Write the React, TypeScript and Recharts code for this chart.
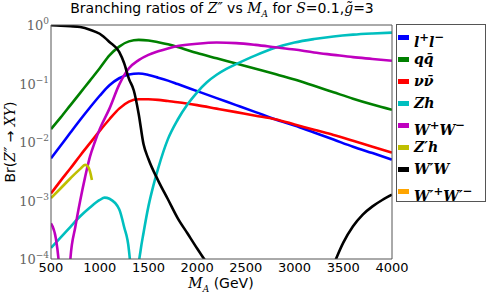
import React from 'react';
import { LineChart, Line, XAxis, YAxis } from 'recharts';

// masses (GeV) and branching ratios
const xTicks = [500, 1000, 1500, 2000, 2500, 3000, 3500, 4000];
const yTicks = [1e-4, 1e-3, 1e-2, 1e-1, 1];
const yMinorTicks = [
  2e-4, 3e-4, 4e-4, 5e-4, 6e-4, 7e-4, 8e-4, 9e-4,
  2e-3, 3e-3, 4e-3, 5e-3, 6e-3, 7e-3, 8e-3, 9e-3,
  2e-2, 3e-2, 4e-2, 5e-2, 6e-2, 7e-2, 8e-2, 9e-2,
  2e-1, 3e-1, 4e-1, 5e-1, 6e-1, 7e-1, 8e-1, 9e-1,
];

const llData: [number, number][] = [
  [500, 0.00525], [600, 0.0087], [700, 0.0145], [800, 0.024], [900, 0.0389],
  [1000, 0.0617], [1100, 0.0933], [1200, 0.123], [1300, 0.143], [1400, 0.148],
  [1500, 0.14], [1600, 0.126], [1700, 0.112], [1800, 0.0977], [2000, 0.0741],
  [2200, 0.0562], [2400, 0.0427], [2600, 0.0324], [2800, 0.0245], [3000, 0.0191],
  [3200, 0.0145], [3400, 0.011], [3600, 0.0083], [3800, 0.00646], [4000, 0.005],
];

const qqData: [number, number][] = [
  [500, 0.0166], [600, 0.0263], [700, 0.0427], [800, 0.0692], [900, 0.112],
  [1000, 0.182], [1100, 0.302], [1200, 0.427], [1300, 0.525], [1400, 0.556],
  [1500, 0.543], [1600, 0.507], [1700, 0.468], [1800, 0.422], [2000, 0.331],
  [2200, 0.269], [2400, 0.219], [2600, 0.178], [2800, 0.145], [3000, 0.117],
  [3200, 0.0912], [3400, 0.0708], [3600, 0.055], [3800, 0.0437], [4000, 0.0355],
];

const nnData: [number, number][] = [
  [500, 0.00132], [600, 0.00219], [700, 0.00355], [800, 0.00589], [900, 0.00955],
  [1000, 0.0155], [1100, 0.0245], [1200, 0.0372], [1300, 0.049], [1400, 0.0537],
  [1500, 0.0537], [1600, 0.0525], [1700, 0.0501], [1800, 0.0479], [2000, 0.0427],
  [2200, 0.0372], [2400, 0.0324], [2600, 0.0282], [2800, 0.0245], [3000, 0.02],
  [3200, 0.0162], [3400, 0.0132], [3600, 0.0105], [3800, 0.0083], [4000, 0.0066],
];

const zhData: [number, number][] = [
  [500, 1.55e-4], [600, 2.34e-4], [700, 3.55e-4], [800, 5.37e-4], [900, 7.59e-4],
  [1000, 1.02e-3], [1050, 1.12e-3], [1100, 1.07e-3], [1200, 7.08e-4], [1250, 3.55e-4],
  [1300, 1.41e-4], [1330, 3.2e-5], [1360, 1e-6], [1390, 5e-5], [1420, 1.41e-4],
  [1450, 2.82e-4], [1500, 7.94e-4], [1550, 1.78e-3], [1600, 3.55e-3], [1700, 0.0112],
  [1800, 0.024], [1900, 0.0437], [2000, 0.0708], [2100, 0.105], [2200, 0.141],
  [2300, 0.178], [2400, 0.214], [2600, 0.302], [2800, 0.407], [3000, 0.501],
  [3200, 0.575], [3400, 0.638], [3600, 0.684], [3800, 0.716], [4000, 0.741],
];

const wwData: [number, number][] = [
  [500, 4.07e-4], [550, 2.24e-4], [580, 8.9e-5], [640, 1e-6], [700, 1.05e-4],
  [750, 3.55e-4], [800, 1e-3], [850, 2.51e-3], [900, 5.62e-3], [950, 0.01],
  [1000, 0.0166], [1100, 0.0372], [1200, 0.0955], [1300, 0.182], [1400, 0.251],
  [1500, 0.309], [1600, 0.355], [1700, 0.398], [1800, 0.437], [2000, 0.479],
  [2200, 0.501], [2400, 0.49], [2600, 0.457], [2800, 0.417], [3000, 0.38],
  [3200, 0.339], [3400, 0.309], [3600, 0.282], [3800, 0.263], [4000, 0.245],
];

const zphData: [number, number][] = [
  [500, 1.1e-3], [600, 1.62e-3], [700, 2.4e-3], [800, 3.47e-3], [850, 4.07e-3],
  [880, 3.8e-3], [900, 3.16e-3], [920, 2.24e-3],
];

const wpwData: [number, number][] = [
  [500, 0.989], [600, 0.977], [700, 0.955], [800, 0.923], [900, 0.832],
  [1000, 0.708], [1100, 0.513], [1200, 0.347], [1250, 0.224], [1300, 0.12],
  [1350, 0.0759], [1400, 0.0302], [1450, 0.00912], [1500, 0.00513], [1600, 0.00219],
  [1700, 1.05e-3], [1800, 5.01e-4], [1900, 2.75e-4], [2000, 1.51e-4], [2100, 8.5e-5],
  [2200, 4.47e-5], [2400, 1e-5], [2800, 1e-6], [3200, 1e-5], [3400, 7.94e-5],
  [3500, 1.9e-4], [3600, 3.63e-4], [3700, 5.75e-4], [3800, 7.94e-4], [3900, 1.02e-3],
  [4000, 1.26e-3],
];

const serif = { fontFamily: 'DejaVu Serif', fontStyle: 'italic' as const };

const series = [
  { key: 'll', color: '#0000ff', data: llData, label: <><i>l</i><sup>+</sup><i>l</i><sup>−</sup></> },
  { key: 'qq', color: '#008000', data: qqData, label: <><i>q</i><i>q&#772;</i></> },
  { key: 'nn', color: '#ff0000', data: nnData, label: <><i>ν</i><i>ν&#772;</i></> },
  { key: 'zh', color: '#00bfbf', data: zhData, label: <><i>Zh</i></> },
  { key: 'ww', color: '#bf00bf', data: wwData, label: <><i>W</i><sup>+</sup><i>W</i><sup>−</sup></> },
  { key: 'zph', color: '#bfbf00', data: zphData, label: <><i>Z′h</i></> },
  { key: 'wpw', color: '#000000', data: wpwData, label: <><i>W′W</i></> },
  { key: 'wpwp', color: '#ffa500', data: [] as [number, number][], label: <><i>W′</i><sup>+</sup><i>W′</i><sup>−</sup></> },
];

const frame = '#555';

const YTick = (props: any) => {
  const { x, y, payload } = props;
  const exp = Math.round(Math.log10(payload.value));
  return (
    <text x={x} y={y + 5} textAnchor="end" fill="#666" fontFamily="DejaVu Serif" fontSize={13}>
      10<tspan dy={-6} fontSize={9}>{exp === 0 ? '0' : '−' + -exp}</tspan>
    </text>
  );
};

const Legend = () => (
  <div
    style={{
      position: 'absolute', left: 396, top: 24, width: 90, height: 178,
      border: `1px solid ${frame}`, background: '#fff', boxSizing: 'border-box',
    }}
  >
    {series.map((s, i) => (
      <div key={s.key} style={{ position: 'absolute', left: 0, top: 2 + i * 22, height: 20, width: 88 }}>
        <div style={{ position: 'absolute', left: 1, top: 8, width: 11, height: 5, background: s.color }} />
        <div
          style={{
            position: 'absolute', left: 17, top: 0, lineHeight: '20px', fontSize: 14,
            fontWeight: 'bold', whiteSpace: 'nowrap', ...serif,
          }}
        >
          {s.label}
        </div>
      </div>
    ))}
  </div>
);

const App = () => {
  return (
    <div style={{ position: 'absolute', left: 0, top: 0, width: 490, height: 297, background: '#fff' }}>
      <LineChart width={490} height={297} margin={{ top: 25, right: 98, bottom: 0, left: 0 }}>
        <XAxis
          xAxisId="b" type="number" dataKey="m" domain={[500, 4000]} ticks={xTicks}
          allowDataOverflow height={38} tickLine={false} tickSize={0} tickMargin={4}
          axisLine={{ stroke: frame }}
          tick={{ fill: '#000', fontFamily: 'DejaVu Sans', fontSize: 13 }}
        />
        <XAxis
          xAxisId="bt" type="number" dataKey="m" domain={[500, 4000]} ticks={xTicks}
          allowDataOverflow mirror tick={false} tickSize={4} axisLine={false}
          tickLine={{ stroke: frame }}
        />
        <XAxis
          xAxisId="t" orientation="top" type="number" dataKey="m" domain={[500, 4000]} ticks={xTicks}
          allowDataOverflow mirror tick={false} tickSize={4} axisLine={{ stroke: frame }}
          tickLine={{ stroke: frame }}
        />
        <YAxis
          yAxisId="l" scale="log" type="number" domain={[1e-4, 1]} ticks={yTicks}
          allowDataOverflow width={51} tickLine={false} tickSize={0} tickMargin={2}
          axisLine={{ stroke: frame }} tick={<YTick />}
        />
        <YAxis
          yAxisId="lm" scale="log" type="number" domain={[1e-4, 1]} ticks={yTicks}
          allowDataOverflow mirror tick={false} tickSize={4} axisLine={false}
          tickLine={{ stroke: frame }}
        />
        <YAxis
          yAxisId="ln" scale="log" type="number" domain={[1e-4, 1]} ticks={yMinorTicks}
          allowDataOverflow mirror tick={false} tickSize={2} axisLine={false}
          tickLine={{ stroke: frame }}
        />
        <YAxis
          yAxisId="r" orientation="right" scale="log" type="number" domain={[1e-4, 1]} ticks={yTicks}
          allowDataOverflow mirror tick={false} tickSize={4} axisLine={{ stroke: frame }}
          tickLine={{ stroke: frame }}
        />
        <YAxis
          yAxisId="rn" orientation="right" scale="log" type="number" domain={[1e-4, 1]} ticks={yMinorTicks}
          allowDataOverflow mirror tick={false} tickSize={2} axisLine={false}
          tickLine={{ stroke: frame }}
        />
        {series
          .filter((s) => s.data.length > 0)
          .map((s) => (
            <Line
              key={s.key}
              xAxisId="b"
              yAxisId="l"
              data={s.data.map(([m, v]) => ({ m, v }))}
              dataKey="v"
              type="monotone"
              stroke={s.color}
              strokeWidth={2.6}
              dot={false}
              activeDot={false}
              isAnimationActive={false}
            />
          ))}
      </LineChart>

      <div
        style={{
          position: 'absolute', left: 0, top: 0, width: 444, textAlign: 'center',
          fontFamily: 'DejaVu Sans', fontSize: 14, lineHeight: '16px', whiteSpace: 'nowrap',
        }}
      >
        Branching ratios of <span style={serif}>Z″</span> vs <span style={serif}>M<sub style={{ fontSize: 9 }}>A</sub></span> for{' '}
        <span style={serif}>S</span>=0.1,<span style={serif}>g&#771;</span>=3
      </div>

      <div
        style={{
          position: 'absolute', left: 0, top: 274, width: 442, textAlign: 'center',
          fontFamily: 'DejaVu Sans', fontSize: 14, lineHeight: '18px', whiteSpace: 'nowrap',
        }}
      >
        <span style={serif}>M<sub style={{ fontSize: 9 }}>A</sub></span> (GeV)
      </div>

      <div
        style={{
          position: 'absolute', left: 10 - 100, top: 142 - 10, width: 200, height: 20,
          lineHeight: '20px', textAlign: 'center', transform: 'rotate(-90deg)',
          fontFamily: 'DejaVu Sans', fontSize: 14, whiteSpace: 'nowrap',
        }}
      >
        Br(<span style={serif}>Z″</span> → <span style={serif}>XY</span>)
      </div>

      <Legend />
    </div>
  );
};

export default App;
